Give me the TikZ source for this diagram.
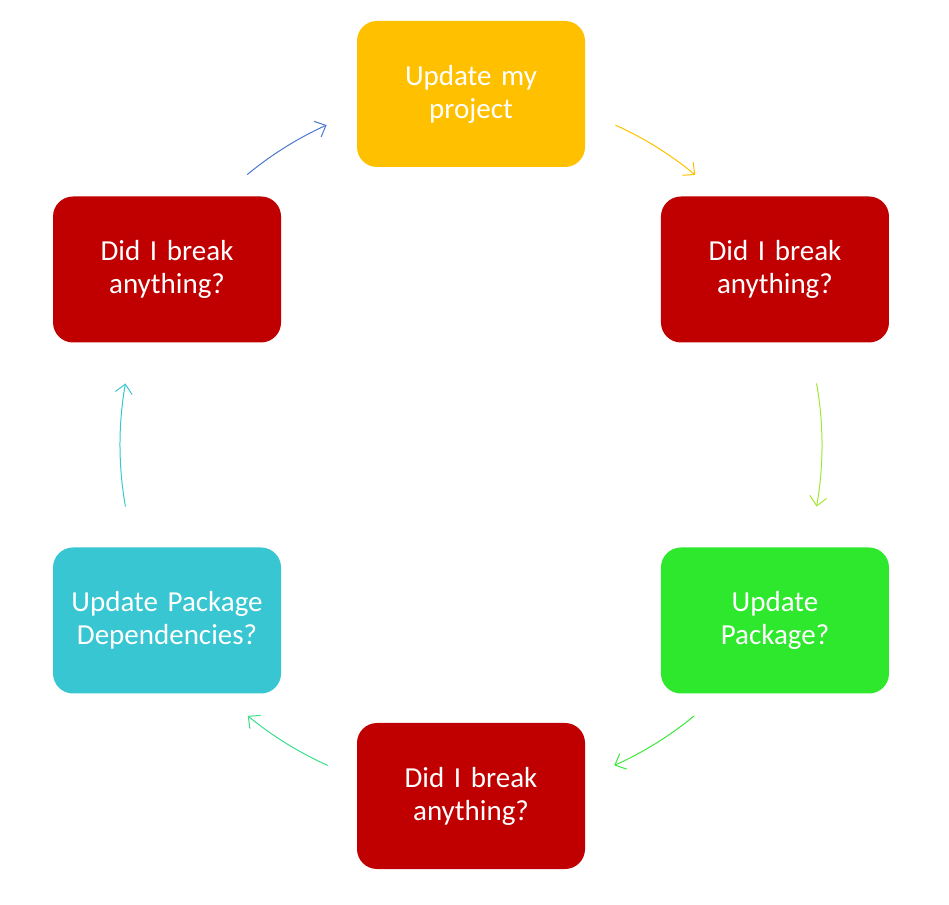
\documentclass[tikz,border=0pt]{standalone}
\usepackage{fontspec}
\setmainfont{Carlito}
\usetikzlibrary{arrows.meta,calc}
\definecolor{cgold}{HTML}{FFC000}
\definecolor{cred}{HTML}{C00000}
\definecolor{cgreen}{HTML}{2EE82E}
\definecolor{ccyan}{HTML}{38C6D2}
\definecolor{agold}{HTML}{FFC000}
\definecolor{alime}{HTML}{A2E630}
\definecolor{agreen}{HTML}{3AE83A}
\definecolor{ateal}{HTML}{3ADE8C}
\definecolor{acyan}{HTML}{38C8D4}
\definecolor{ablue}{HTML}{4A78CC}
\tikzset{
  box/.style={rounded corners=20pt, minimum width=228pt, minimum height=146pt,
    text width=210pt, align=center, text=white, inner sep=0pt,
    font=\fontsize{29pt}{33pt}\selectfont},
  arr/.style={line width=1pt, -{Straight Barb[length=9pt,width=17pt]}},
}
\begin{document}
\begin{tikzpicture}[x=1pt,y=1pt]
\useasboundingbox (0,0) rectangle (949,904);
\coordinate (c) at (471,459);
\node[box, fill=cgold] (n1) at ($(c)+(90:351)$) {Update my\\project};
\node[box, fill=cred] (n2) at ($(c)+(30:351)$) {Did I break\\anything?};
\node[box, fill=cgreen] (n3) at ($(c)+(-30:351)$) {Update\\Package?};
\node[box, fill=cred] (n4) at ($(c)+(-90:351)$) {Did I break\\anything?};
\node[box, fill=ccyan] (n5) at ($(c)+(-150:351)$) {Update Package\\Dependencies?};
\node[box, fill=cred] (n6) at ($(c)+(150:351)$) {Did I break\\anything?};
\coordinate (s1) at ($(c)+(65.7:351)$);
\coordinate (s2) at ($(c)+(10.1:351)$);
\coordinate (s3) at ($(c)+(-50.5:351)$);
\coordinate (s4) at ($(c)+(-114.1:351)$);
\coordinate (s5) at ($(c)+(190.1:351)$);
\coordinate (s6) at ($(c)+(129.6:351)$);
\draw[arr, agold] (s1) arc[start angle=65.7, end angle=50.3, radius=351];
\draw[arr, alime] (s2) arc[start angle=10.1, end angle=-10.1, radius=351];
\draw[arr, agreen] (s3) arc[start angle=-50.5, end angle=-65.9, radius=351];
\draw[arr, ateal] (s4) arc[start angle=-114.1, end angle=-129.5, radius=351];
\draw[arr, acyan] (s5) arc[start angle=190.1, end angle=169.9, radius=351];
\draw[arr, ablue] (s6) arc[start angle=129.6, end angle=114.3, radius=351];
\end{tikzpicture}
\end{document}
